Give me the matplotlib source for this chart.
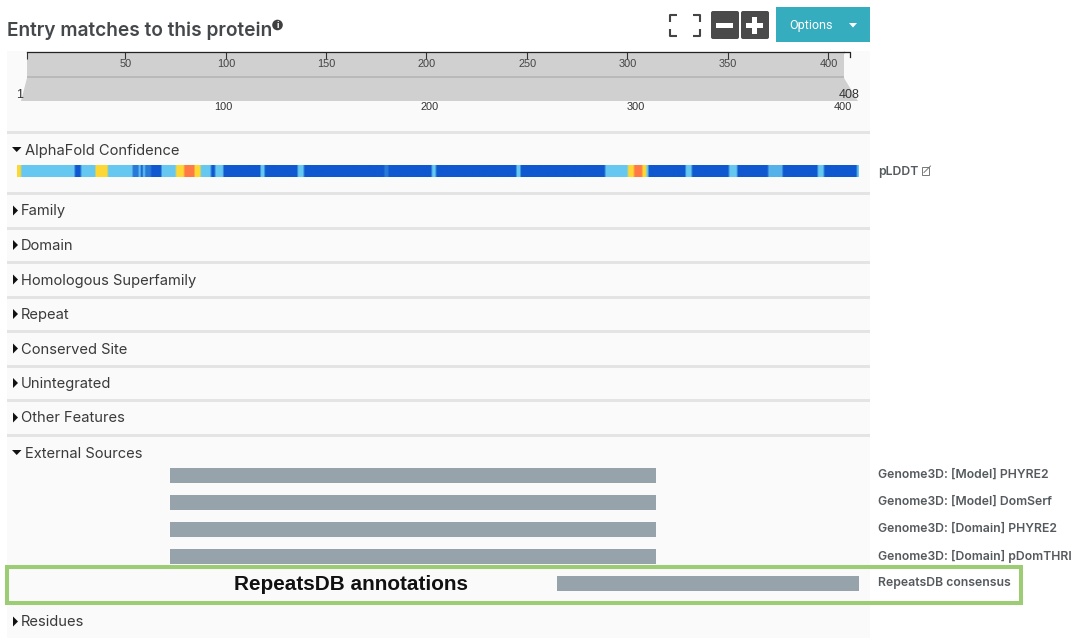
"""InterPro style protein viewer: entry matches, AlphaFold confidence and external source tracks."""

import numpy as np
import matplotlib
matplotlib.use("Agg")
import matplotlib.pyplot as plt
from matplotlib.patches import FancyBboxPatch, Polygon, Rectangle, Circle
from matplotlib.colors import to_rgb

W, H = 1081, 638
SEQ_LEN = 408

title = "Entry matches to this protein"
collapsed_rows = ["Family", "Domain", "Homologous Superfamily", "Repeat", "Conserved Site",
                  "Unintegrated", "Other Features"]
source_labels = ["Genome3D: [Model] PHYRE2", "Genome3D: [Model] DomSerf", "Genome3D: [Domain] PHYRE2",
                 "Genome3D: [Domain] pDomTHRI", "RepeatsDB consensus"]
source_start = [74, 74, 74, 74, 261.5]
source_end = [309.5, 309.5, 309.5, 309.5, 408]
ruler_ticks = [50, 100, 150, 200, 250, 300, 350, 400]
track_ticks = [100, 200, 300, 400]

# pLDDT as runs: last residue of each run and its score
plddt_end = [2, 28, 31, 38, 44, 56, 59, 60, 61, 62, 65, 70, 77, 81, 86, 89, 94, 96, 100, 118, 120,
             136, 139, 178, 180, 201, 203, 242, 244, 285, 296, 299, 303, 305, 306, 324, 327, 345,
             349, 364, 371, 388, 391, 407, 408]
plddt_score = [65, 80, 93, 80, 62, 80, 87, 80, 93, 80, 87, 93, 80, 62, 45, 65, 80, 93, 80, 93, 80,
               93, 80, 93, 87, 93, 80, 93, 80, 93, 80, 62, 45, 62, 80, 93, 80, 93,
               80, 93, 82, 93, 80, 93, 80]

GREY_TEXT = "#555a5e"
BG = "#fafafa"
SEP = "#e4e4e4"
NAV = "#d0d0d0"
BAR = "#97a3aa"
BTN = "#4a4a4a"
TEAL = "#35adbf"
GREEN = "#9ccc74"

plt.rcParams["font.family"] = ["Inter", "Roboto", "DejaVu Sans"]


def px(size):
    """CSS pixels to points at dpi 100."""
    return size * 0.72


def score_colour(s):
    if s >= 90:
        return np.array(to_rgb("#0f58cf"))
    if s >= 70:
        # 82-87 scores sit between the two blues
        t = np.clip((s - 80) / 10, 0, 1)
        return (1 - t) * np.array(to_rgb("#66c8f0")) + t * np.array(to_rgb("#0f58cf"))
    if s >= 50:
        return np.array(to_rgb("#fdd835"))
    return np.array(to_rgb("#ff7a45"))


def px_axes(fig, left, top, right, bottom):
    return fig.add_axes([left / W, 1 - bottom / H, (right - left) / W, (bottom - top) / H])


fig = plt.figure(figsize=(W / 100, H / 100), dpi=100, facecolor="white")

# page layer, coordinates are pixels
ax = fig.add_axes([0, 0, 1, 1])
ax.set_xlim(0, W)
ax.set_ylim(H, 0)
ax.axis("off")

ax.add_patch(Rectangle((7, 51), 863, H - 51, fc=BG, ec="none"))
for y in [131, 192, 226.5, 261, 295.5, 330, 364.5, 399, 433.5]:
    ax.add_patch(Rectangle((7, y), 863, 3, fc=SEP, ec="none"))

ax.text(7, 31, title, fontsize=px(19.1), fontweight="semibold", color="#45484b", va="center")
ax.add_patch(Circle((277.5, 25), 5.3, fc="#3f3f3f", ec="none"))
ax.text(277.5, 25, "i", fontsize=px(9), fontweight="bold", color="white", ha="center", va="center")

# fullscreen corners
for cx, cy, dx, dy in [(670, 15, 1, 1), (700, 15, -1, 1), (670, 36, 1, -1), (700, 36, -1, -1)]:
    ax.plot([cx + 7 * dx, cx, cx], [cy, cy, cy + 7 * dy], color="#444444", lw=1.5, solid_capstyle="butt")

# zoom buttons and options
for x0 in [711, 741]:
    ax.add_patch(FancyBboxPatch((x0 + 2, 13), 24, 24, boxstyle="round,pad=2", fc=BTN, ec="none"))
ax.add_patch(Rectangle((716, 22.5), 17, 5, fc="white", ec="none"))
ax.add_patch(Rectangle((746, 22.5), 17, 5, fc="white", ec="none"))
ax.add_patch(Rectangle((752, 16.5), 5, 17, fc="white", ec="none"))
ax.add_patch(Rectangle((776, 7), 94, 35, fc=TEAL, ec="none"))
ax.text(789, 25, "Options", fontsize=px(12.5), family="Roboto", color="white", va="center")
ax.add_patch(Polygon([(849, 23), (857, 23), (853, 27.5)], fc="white", ec="none"))

# navigator shapes
ax.add_patch(Rectangle((27, 52), 817, 24.5, fc=NAV, ec="none"))
ax.add_patch(Rectangle((27, 76), 817, 2, fc="#b9b9b9", ec="none"))
ax.add_patch(Polygon([(27, 78), (844, 78), (858, 101), (21, 101)], fc=NAV, ec="none"))
ax.plot([844, 850, 850], [51.5, 51.5, 56.5], color="#222222", lw=0.9)
ax.text(20, 95, "1", fontsize=px(12.5), family="Liberation Sans", color="#333333", ha="center", va="center")
ax.text(849, 95, "408", fontsize=px(12.5), family="Liberation Sans", color="#333333", ha="center", va="center")

# row headers
ROW_TEXT = "#3a3a3a"


def row_header(y, label, expanded=False):
    if expanded:
        ax.add_patch(Polygon([(12, y - 2.5), (21.5, y - 2.5), (16.7, y + 2.5)], fc="#111111", ec="none"))
        ax.text(25, y + 1, label, fontsize=px(14.7), color=ROW_TEXT, va="center")
    else:
        ax.add_patch(Polygon([(13, y - 5), (18, y), (13, y + 5)], fc="#111111", ec="none"))
        ax.text(21, y + 1, label, fontsize=px(14.7), color=ROW_TEXT, va="center")


row_header(149.5, "AlphaFold Confidence", expanded=True)
for y, label in zip([210.5, 245, 279.5, 314, 348.5, 383, 417.5], collapsed_rows):
    row_header(y, label)
row_header(452.5, "External Sources", expanded=True)
row_header(621.5, "Residues")

# labels to the right of the tracks
ax.text(878, 172, "pLDDT", fontsize=px(12.2), fontweight="semibold", color=GREY_TEXT, va="center")
ax.add_patch(Rectangle((921.5, 167), 7.5, 7.5, fc="none", ec="#777777", lw=0.7))
ax.plot([924, 930.5], [172.5, 166], color="#777777", lw=0.7)

label_y = [475, 502, 529, 556, 583]
for y, label in zip(label_y, source_labels):
    ax.text(878, y, label, fontsize=px(12.2), fontweight="semibold", color=GREY_TEXT, va="center")

# ruler over the navigator, residue scale
rul = px_axes(fig, 27, 51.5, 844, 76)
rul.set_xlim(1, SEQ_LEN)
rul.patch.set_alpha(0)
for s in ["left", "right", "bottom"]:
    rul.spines[s].set_visible(False)
rul.spines["top"].set_linewidth(0.9)
rul.spines["top"].set_color("#222222")
rul.set_yticks([])
rul.set_xticks([1] + ruler_ticks)
rul.tick_params(axis="x", top=True, bottom=False, labelbottom=False, direction="in", length=5,
                width=0.8, color="#333333")
for v in ruler_ticks:
    rul.text(v + 0.3, 0.5, str(v), transform=rul.get_xaxis_transform(), fontsize=px(11),
             family="Liberation Sans", color="#444444", ha="center", va="center")

# track layer, x in residues and y in pixels
trk = px_axes(fig, 17, 0, 859, H)
trk.patch.set_alpha(0)
trk.axis("off")

runs = np.diff([0] + plddt_end)
per_residue = np.repeat(plddt_score, runs)
rgb = np.array([score_colour(s) for s in per_residue])[None, :, :]
trk.imshow(rgb, extent=(0, SEQ_LEN, 177, 165), aspect="auto", interpolation="bilinear")
trk.set_xlim(0, SEQ_LEN)
trk.set_ylim(H, 0)

for v in track_ticks:
    trk.text(v, 106.5, str(v), fontsize=px(11), family="Liberation Sans", color="#333333",
             ha="center", va="center")

bar_top = [468, 495, 522, 549, 576]
for y, s, e in zip(bar_top, source_start, source_end):
    trk.broken_barh([(s, e - s)], (y, 15), facecolor=BAR, edgecolor="none")

# highlight box drawn on top
ax2 = fig.add_axes([0, 0, 1, 1])
ax2.set_xlim(0, W)
ax2.set_ylim(H, 0)
ax2.axis("off")
ax2.add_patch(Rectangle((7.2, 567.2), 1013.8, 35.8, fc="none", ec=GREEN, lw=2.9))
ax2.text(350.5, 584.5, "RepeatsDB annotations", fontsize=px(20.8), fontweight="bold",
         family="Liberation Sans", color="#111111", ha="center", va="center")

fig.savefig("out.png", dpi=100)
